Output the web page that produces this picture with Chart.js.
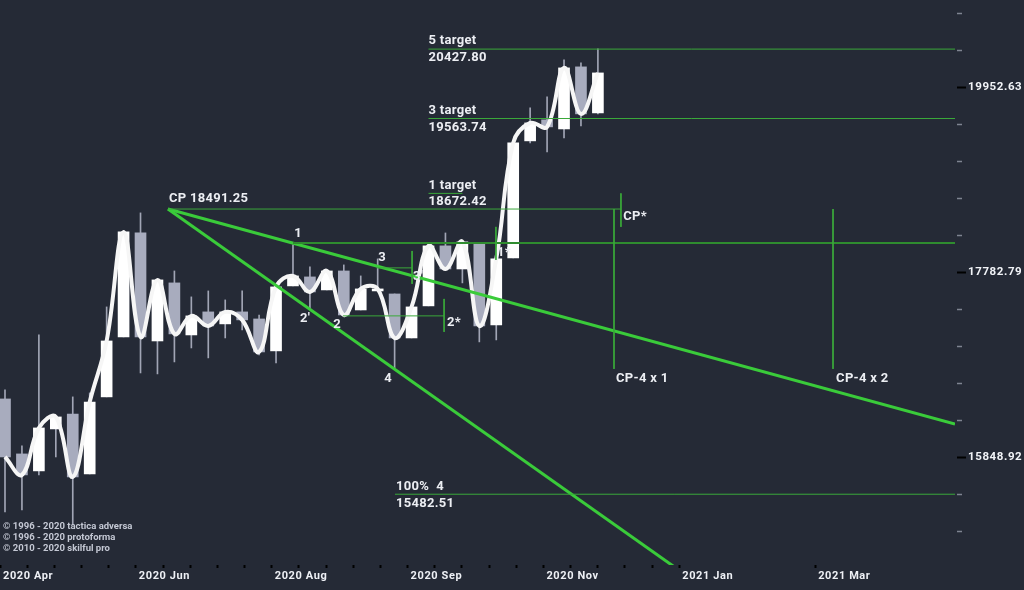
<!DOCTYPE html>
<html>
<head>
<meta charset="utf-8">
<script src="https://cdn.jsdelivr.net/npm/chart.js@4.4.0/dist/chart.umd.min.js"></script>
<style>
  html, body { margin: 0; padding: 0; background: #252a36; }
  canvas { display: block; }
</style>
</head>
<body>
<canvas id="chart" width="1024" height="590"></canvas>
<script>
// bars (one bar per slot)
const opens  = [16429,15876,15709,16125,16276,15679,16450,17076,18218,17033,17660,17097,17344,17215,17344,17268,16928,17627,17726,17583,17792,17365,17572,17539,17065,17409,18072,17814,18094,17204,17937,19293,19547,19437,20203,19632];
const highs  = [16522,15955,17097,16246,16450,16491,17398,18230,18447,17693,17792,17507,17572,17474,17572,17311,17616,18083,17837,17792,17859,17737,17926,17539,17398,18072,18218,18117,18094,17926,19269,19693,19829,20291,20253,20430];
const lows   = [15313,15332,15670,15846,15189,15679,16450,17076,16697,16687,16812,16959,16854,17065,17151,16885,16802,17627,17387,17583,17311,17365,17572,16749,17065,17409,17814,17660,17023,17044,17937,19269,19161,19329,19474,19620];
const closes = [15846,15670,16135,16246,15650,16398,17033,18230,17076,17693,17108,17301,17193,17344,17258,16917,17616,17737,17561,17792,17311,17594,17594,17065,17398,18072,17814,18117,17193,17926,19269,19510,19462,20190,19620,20127];

// axis
const xMin = -0.295, xMax = 56.08;
const xTickStep = 1.604;
const xTickIdx = [0,1,2,3,4,5,6,7,8,9,10,11,12,13,14,15,16,17,18,19,20,21,22,23,24,25,30,35];
const xTickLabels = ['2020 Apr', '2020 Jun', '2020 Aug', '2020 Sep', '2020 Nov', '2021 Jan', '2021 Mar'];
const yLogMin = 4.1707, yLogMax = 4.3235;
const yTickHundredths = [418,419,420,421,422,423,424,425,426,427,428,429,430,431,432];
const yTickLabels = { 420: '15848.92', 425: '17782.79', 430: '19952.63' };

// levels
const cpLevel = 18491.25;
const targetLevels = [20427.80, 19563.74, 18672.42];
const fourLevel = 15482.51;

// segments [x1, y1, x2, y2]
const fanLines = [
  [9.62, cpLevel, xMax, 16175],
  [9.62, cpLevel, 40.6, 14678]
];
const oneLine = [17.0, 18105, xMax, 18105];
const thinLines = [
  [25, targetLevels[0], xMax, targetLevels[0]],
  [25, targetLevels[1], xMax, targetLevels[1]],
  [25, targetLevels[2], 27, targetLevels[2]],
  [9.62, cpLevel, 36.36, cpLevel],
  [36.36, targetLevels[2], 36.36, 18287],
  [35.95, cpLevel, 35.95, 16739],
  [48.88, cpLevel, 48.88, 16739],
  [21.96, 17826, 24.03, 17826],
  [24.03, 18015, 24.03, 17649],
  [19.95, 17301, 25.92, 17301],
  [25.92, 17485, 25.92, 17129],
  [28.98, 18287, 28.98, 17915],
  [23.02, fourLevel, xMax, fourLevel]
];

// text notes [text, x, price, dy, align]
const notes = [
  ['CP 18491.25', 9.68, cpLevel, -10, 'left'],
  ['5 target', 25.0, targetLevels[0], -8, 'left'],
  ['20427.80', 25.0, targetLevels[0], 9, 'left'],
  ['3 target', 25.0, targetLevels[1], -8, 'left'],
  ['19563.74', 25.0, targetLevels[1], 9, 'left'],
  ['1 target', 25.0, targetLevels[2], -8, 'left'],
  ['18672.42', 25.0, targetLevels[2], 8, 'left'],
  ['CP*', 36.5, cpLevel, 8, 'left'],
  ['CP-4 x 1', 36.07, 16739, 10, 'left'],
  ['CP-4 x 2', 49.06, 16739, 10, 'left'],
  ['100%  4', 23.08, fourLevel, -7, 'left'],
  ['15482.51', 23.08, fourLevel, 10, 'left'],
  ['1', 17.3, 18105, -9, 'center'],
  ["2'", 17.71, 17268, 0, 'center'],
  ['2', 19.6, 17301, 9, 'center'],
  ['3', 22.26, 17826, -10, 'center'],
  ["3'", 24.38, 17826, 9, 'center'],
  ['4', 22.61, 16749, 11, 'center'],
  ['2*', 26.09, 17301, 7, 'left'],
  ['1*', 29.04, 17993, 0, 'left']
];

const credits = ['\u00a9 1996 - 2020 tactica adversa', '\u00a9 1996 - 2020 protoforma', '\u00a9 2010 - 2020 skilful pro'];

const upColor = '#ffffff';
const downColor = '#a8acbe';
const green = '#3acb3a';
const thinGreen = '#3aa83a';

const idx = closes.map((c, i) => i);

function segDataset(s, color, width) {
  return {
    type: 'line',
    data: [{ x: s[0], y: s[1] }, { x: s[2], y: s[3] }],
    borderColor: color,
    borderWidth: width,
    pointRadius: 0,
    tension: 0,
    order: 0
  };
}

const datasets = [];
thinLines.forEach(s => datasets.push(segDataset(s, thinGreen, 1)));
datasets.push(segDataset(oneLine, '#2f8c2f', 2));
fanLines.forEach(s => datasets.push(segDataset(s, green, 3)));

datasets.push({
  type: 'line',
  data: idx.map(i => ({ x: i, y: closes[i] })),
  borderColor: '#f6f6f6',
  borderWidth: 4,
  pointRadius: 0,
  tension: 0.4,
  order: 1
});

datasets.push({
  type: 'bar',
  data: idx.map(i => ({ x: i, y: [opens[i], closes[i]] })),
  backgroundColor: idx.map(i => closes[i] >= opens[i] ? upColor : downColor),
  barThickness: 11,
  grouped: false,
  borderWidth: 0,
  order: 2
});

datasets.push({
  type: 'bar',
  data: idx.map(i => ({ x: i, y: [lows[i], highs[i]] })),
  backgroundColor: '#a1a5b5',
  barThickness: 1,
  grouped: false,
  borderWidth: 0,
  order: 3
});

const overlay = {
  id: 'overlay',
  beforeDraw(chart) {
    const ctx = chart.ctx;
    ctx.save();
    ctx.fillStyle = '#252a36';
    ctx.fillRect(0, 0, chart.width, chart.height);
    ctx.restore();
    ctx.letterSpacing = '0.6px';
  },
  afterDatasetsDraw(chart) {
    const ctx = chart.ctx;
    const xs = chart.scales.x, ys = chart.scales.y;
    ctx.save();
    ctx.font = 'bold 13px Roboto';
    ctx.fillStyle = '#eceef3';
    ctx.textBaseline = 'middle';
    ctx.letterSpacing = '0.3px';
    notes.forEach(n => {
      ctx.textAlign = n[4];
      ctx.fillText(n[0], xs.getPixelForValue(n[1]), ys.getPixelForValue(n[2]) + n[3]);
    });
    ctx.restore();
  },
  afterDraw(chart) {
    const ctx = chart.ctx;
    const ys = chart.scales.y;
    const left = chart.chartArea.right;
    ctx.save();
    yTickHundredths.forEach(k => {
      const y = Math.round(ys.getPixelForValue(Math.pow(10, k / 100))) + 0.5;
      ctx.beginPath();
      if (yTickLabels[k]) {
        ctx.strokeStyle = '#000000';
        ctx.lineWidth = 2;
        ctx.moveTo(left + 2, y);
        ctx.lineTo(left + 11, y);
      } else {
        ctx.strokeStyle = '#7f8491';
        ctx.lineWidth = 1.5;
        ctx.moveTo(left + 2, y);
        ctx.lineTo(left + 7, y);
      }
      ctx.stroke();
    });
    ctx.font = 'bold 9.5px Roboto';
    ctx.fillStyle = '#c4c8d4';
    ctx.textAlign = 'left';
    ctx.textBaseline = 'middle';
    ctx.letterSpacing = '0px';
    credits.forEach((t, i) => ctx.fillText(t, 3, 527 + i * 11));
    ctx.restore();
  }
};

Chart.defaults.font.family = 'Roboto';

new Chart(document.getElementById('chart'), {
  type: 'bar',
  data: { datasets: datasets },
  options: {
    responsive: false,
    animation: false,
    layout: { padding: 0 },
    plugins: { legend: { display: false }, tooltip: { enabled: false } },
    scales: {
      x: {
        type: 'linear',
        min: xMin,
        max: xMax,
        bounds: 'data',
        offset: false,
        afterBuildTicks: s => { s.ticks = xTickIdx.map(k => ({ value: xMin + xTickStep * k })); },
        afterFit: s => { s.height = 25; s.paddingLeft = 0; s.paddingRight = 0; },
        grid: { offset: false, drawOnChartArea: false, drawTicks: true, tickLength: 3, tickColor: '#000000', tickWidth: 2 },
        border: { display: false },
        ticks: {
          autoSkip: false,
          maxRotation: 0,
          align: 'start',
          labelOffset: 3,
          padding: 2,
          color: '#eef0f5',
          font: { size: 11, weight: 'bold' },
          callback: (v, i) => {
            const k = xTickIdx[i];
            return (k % 5 === 0) ? xTickLabels[k / 5] : '';
          }
        }
      },
      y: {
        type: 'logarithmic',
        position: 'right',
        min: Math.pow(10, yLogMin),
        max: Math.pow(10, yLogMax),
        bounds: 'data',
        afterBuildTicks: s => { s.ticks = yTickHundredths.map(k => ({ value: Math.pow(10, k / 100) })); },
        afterFit: s => { s.width = 69; s.paddingTop = 0; s.paddingBottom = 0; },
        grid: { display: false, drawTicks: false },
        border: { display: false },
        ticks: {
          autoSkip: false,
          padding: 13,
          color: '#f2f4f8',
          font: { size: 11.5, weight: 'bold' },
          callback: (v, i) => yTickLabels[yTickHundredths[i]] || ''
        }
      }
    }
  },
  plugins: [overlay]
});
</script>
</body>
</html>
